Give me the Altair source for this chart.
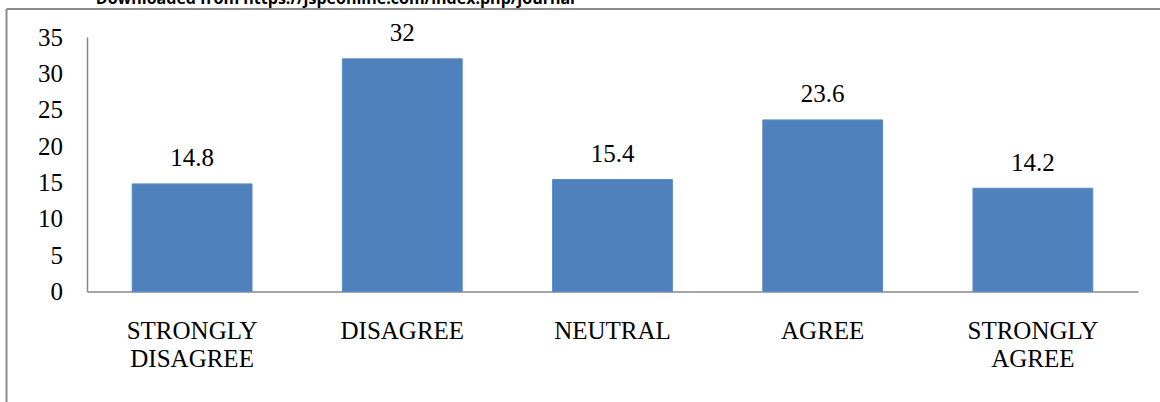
import altair as alt
import pandas as pd

# Survey responses (percent)
categories = ["STRONGLY DISAGREE", "DISAGREE", "NEUTRAL", "AGREE", "STRONGLY AGREE"]
values = [14.8, 32, 15.4, 23.6, 14.2]
y_ticks = [0, 5, 10, 15, 20, 25, 30, 35]
source_note = "Downloaded from https://jspeonline.com/index.php/journal"

df = pd.DataFrame({"category": categories, "value": values})
one_row = pd.DataFrame({"k": [0]})

SERIF = "Liberation Serif"
FS = 25
BLUE = "#4F81BD"
GRAY = "#868686"

x_enc = alt.X(
    "category:N",
    sort=categories,
    scale=alt.Scale(paddingInner=0.43, paddingOuter=0.215),
    axis=alt.Axis(
        title=None,
        labelAngle=0,
        labelExpr="split(datum.label, ' ')",
        labelFont=SERIF,
        labelFontSize=FS,
        labelColor="#000000",
        labelLineHeight=28,
        labelPadding=27,
        labelBaseline="top",
        labelOverlap=False,
        ticks=False,
        tickSize=0,
        domainColor=GRAY,
        domainWidth=1.5,
    ),
)
y_enc = alt.Y(
    "value:Q",
    scale=alt.Scale(domain=[0, 35], nice=False),
    axis=alt.Axis(
        title=None,
        values=y_ticks,
        grid=False,
        ticks=False,
        tickSize=0,
        labelFont=SERIF,
        labelFontSize=FS,
        labelColor="#000000",
        labelPadding=24.5,
        labelOverlap=False,
        labelBound=False,
        domainColor=GRAY,
        domainWidth=1.5,
    ),
)

bars = alt.Chart(df).mark_bar(color=BLUE, stroke="#5a8bc6", strokeWidth=1).encode(x=x_enc, y=y_enc)

# Value labels share the same positional encodings as the bars
labels = alt.Chart(df).mark_text(
    font=SERIF, fontSize=FS, color="#000000", baseline="alphabetic", dy=-17.5
).encode(
    x=x_enc,
    y=y_enc,
    text=alt.Text("value:Q"),
)

# Chart-area border (left and top edges)
frame_left = alt.Chart(one_row).mark_rule(color="#8c8c8c", strokeWidth=2).encode(
    x=alt.value(-80.5), y=alt.value(-28), y2=alt.value(400)
)
frame_top = alt.Chart(one_row).mark_rule(color="#8c8c8c", strokeWidth=2).encode(
    x=alt.value(-80.5), x2=alt.value(1200), y=alt.value(-28)
)

# Source line running along the top edge
note = alt.Chart(one_row).mark_text(
    font="Open Sans", fontWeight="bold", fontSize=16, align="right",
    baseline="alphabetic", color="#000000"
).encode(x=alt.value(488), y=alt.value(-33), text=alt.value(source_note))

chart = (
    alt.layer(bars, labels, frame_left, frame_top, note)
    .properties(
        width=1051,
        height=254.5,
        padding={"left": 87, "top": 37, "right": 22, "bottom": 110.5},
        autosize=alt.AutoSizeParams(type="none"),
        background="#ffffff",
    )
    .configure_view(stroke=None)
    .configure_axis(labelOverlap=False)
)

chart.save("out.html", embed_options={"renderer": "svg", "actions": False})
